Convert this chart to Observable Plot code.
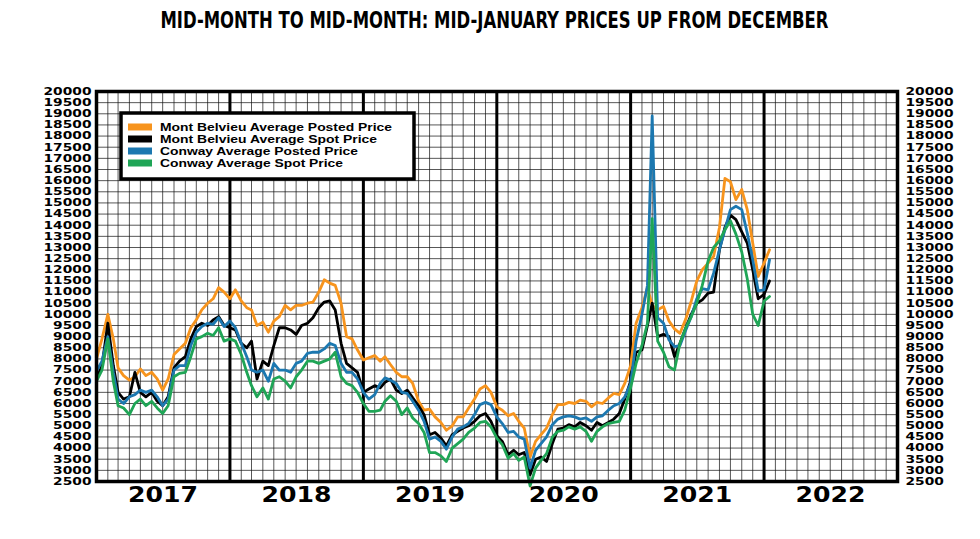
<!DOCTYPE html>
<html><head><meta charset="utf-8">
<script src="https://cdn.jsdelivr.net/npm/d3@7"></script>
<script src="https://cdn.jsdelivr.net/npm/@observablehq/plot@0.6"></script>
<style>
body{margin:0;background:#fff;}
#wrap{position:relative;width:980px;height:539px;overflow:hidden;}
#wrap svg{position:absolute;left:0;top:0;}
#title{position:absolute;top:9px;left:4px;width:980px;text-align:center;z-index:2;white-space:nowrap;}
#title span{display:inline-block;font-family:"DejaVu Sans Condensed","DejaVu Sans",sans-serif;font-weight:bold;font-size:23px;line-height:23px;transform-origin:center center;}
</style></head><body><div id="wrap"><div id="title"><span id="tspan"></span></div></div>
<script>
const titleText = "MID-MONTH TO MID-MONTH: MID-JANUARY PRICES UP FROM DECEMBER";
const seriesNames = ["Mont Belvieu Average Posted Price","Mont Belvieu Average Spot Price","Conway Average Posted Price","Conway Average Spot Price"];
const seriesColors = ["#f7941d","#000000","#1c78b0","#1fa556"];
// semi-monthly readings (1st and 16th of each month), Jan 2017 - mid Jan 2022
const mbPosted = [
 8000,8900,10000,8900,7600,7250,7050,7200,7550,7250,7400,7100,6600,7100,8200,8450,8700,9400,9750,10200,10500,10700,11200,11000,
 10700,11100,10600,10300,10200,9500,9650,9200,9700,9900,10400,10200,10400,10400,10500,10550,11000,11550,11400,11300,10500,9000,8900,8400,
 7950,8050,8150,7900,8100,7750,7400,7200,7200,6900,6100,5700,5750,5400,5150,4800,5000,5400,5400,5800,6200,6650,6800,6500,
 5850,5700,5450,5550,5200,4900,3600,4300,4600,4900,5500,5950,5950,6050,6000,6150,6100,5850,6050,6000,6250,6450,6400,6900,
 7700,9600,10300,11200,10400,10200,10350,9700,9350,9150,9800,10600,11500,12000,12300,12600,13900,16100,15950,15150,15600,14700,13200,11700,12300,12900
];
const mbSpot = [
 7100,7700,9600,7700,6500,6200,6300,7400,6500,6300,6500,6100,5900,6300,7600,7900,8100,8900,9450,9600,9500,9750,9900,9500,
 9400,9300,8700,8500,8800,7100,7900,7700,8600,9400,9400,9300,9100,9500,9600,9850,10300,10550,10600,10200,8700,7800,7600,7400,
 6500,6650,6800,6700,6950,7100,6600,6450,6600,6250,5900,5500,4600,4700,4450,4100,4600,4750,4900,5000,5200,5450,5550,5200,
 4550,4300,3700,3900,3700,3800,2800,3500,3600,3400,4200,4850,4900,5050,4950,5150,5000,4800,5150,5000,5150,5300,5550,6200,
 7000,8300,8400,9500,10500,9000,9100,9000,8100,8700,9400,10000,10500,10650,10950,11000,12900,13900,14450,14250,13700,13200,12000,10700,10900,11500
];
const cwPosted = [
 7450,7900,9000,7400,6200,6000,6300,6400,6600,6500,6600,6300,5900,6200,7500,7700,7700,8600,9200,9450,9600,9550,9850,9450,
 9700,9400,8700,8100,7500,7400,7500,7000,7800,7500,7500,7400,7800,7900,8250,8300,8300,8450,8700,8600,7800,7400,7400,7100,
 6500,6200,6400,6900,7150,7050,6900,6500,6450,6100,5700,5200,4400,4500,4300,3950,4500,4850,4950,5100,5500,5950,6050,5950,
 5400,5100,4700,4750,4500,4400,3100,3900,4200,4500,5050,5300,5400,5450,5400,5300,5350,5200,5400,5450,5700,5900,6000,6300,
 6900,8800,10000,11300,18900,9850,9600,8850,8550,8600,9300,9900,10700,11150,11100,11850,12900,13800,14700,14850,14700,13650,12450,11050,11100,12450
];
const cwSpot = [
 7000,7500,8900,7000,5900,5800,5500,6000,6200,5900,6100,5800,5550,5900,7200,7350,7400,8100,8900,9000,9150,9050,9400,8800,
 8900,8800,8200,7400,6800,6300,6700,6200,7100,7200,7000,6700,7200,7500,7900,7900,7800,7900,8000,8300,7200,6900,6800,6500,
 6000,5650,5650,5700,6100,6350,6100,5500,5800,5350,5100,4700,3800,3800,3650,3400,4000,4200,4400,4700,4900,5150,5200,4950,
 4450,4150,3550,3750,3450,3600,2300,3100,3450,3750,4500,4750,4800,4950,4850,4950,4750,4300,4750,4950,5100,5150,5200,5700,
 6700,7800,8600,9600,14300,8800,8300,7650,7500,8700,9400,9900,10500,11300,12400,13000,13300,13800,14200,13600,12800,11600,10000,9500,10600,10800
];
const yTicks = d3.range(2500, 20001, 500);
const yearLabels = [2017, 2018, 2019, 2020, 2021, 2022];

function dateAt(i){ return new Date(Date.UTC(2017, Math.floor(i/2), i % 2 ? 16 : 1)); }
const rows = [];
[mbPosted, mbSpot, cwPosted, cwSpot].forEach((arr, k) =>
  arr.forEach((v, i) => rows.push({series: seriesNames[k], date: dateAt(i), value: v})));
const months = d3.utcMonth.range(new Date(Date.UTC(2017,0,1)), new Date(Date.UTC(2023,0,1)));
const yearBounds = yearLabels.slice(1).map(y => new Date(Date.UTC(y,0,1)));

const chart = Plot.plot({
  width: 980, height: 539,
  marginTop: 91, marginBottom: 58, marginLeft: 96, marginRight: 83,
  style: {fontFamily: "DejaVu Sans, sans-serif", background: "#fff"},
  x: {type: "utc", domain: [new Date(Date.UTC(2017,0,1)), new Date(Date.UTC(2023,0,1))], axis: null},
  y: {domain: [2500, 20000], axis: null},
  color: {domain: seriesNames, range: seriesColors},
  marks: [
    Plot.ruleX(months, {stroke: "#111", strokeWidth: 1, strokeOpacity: 0.7}),
    Plot.ruleY(yTicks, {stroke: "#111", strokeWidth: 1, strokeOpacity: 0.7}),
    Plot.ruleX(yearBounds, {stroke: "#000", strokeWidth: 3}),
    Plot.line(rows, {x: "date", y: "value", z: "series", stroke: "series", strokeWidth: 2.8, strokeLinejoin: "round"}),
    Plot.frame({stroke: "#000", strokeWidth: 3.5}),
    Plot.text(yTicks, {y: d => d, frameAnchor: "left", dx: -5, textAnchor: "end", text: d => String(d), fontSize: 10.5, fontWeight: "bold", fill: "#000"}),
    Plot.text(yTicks, {y: d => d, frameAnchor: "right", dx: 8, textAnchor: "start", text: d => String(d), fontSize: 10.5, fontWeight: "bold", fill: "#000"}),
    Plot.text(yearLabels, {x: d => new Date(Date.UTC(d,6,2)), frameAnchor: "bottom", dy: 20, text: d => String(d), fontSize: 21, fontWeight: "bold", fill: "#000"})
  ]
});
const wrap = document.getElementById("wrap");
wrap.insertBefore(chart, wrap.firstChild);

// stretch tick labels to the wide face of the original
const groups = chart.querySelectorAll('g[aria-label="text"]');
[0,1].forEach(g => groups[g] && groups[g].querySelectorAll("text").forEach(t => {
  t.setAttribute("textLength", t.textContent.length * 9.6);
  t.setAttribute("lengthAdjust", "spacingAndGlyphs");
}));
if (groups[2]) groups[2].querySelectorAll("text").forEach(t => {
  t.setAttribute("textLength", 70);
  t.setAttribute("lengthAdjust", "spacingAndGlyphs");
});

// title (HTML, fitted to the original width)
const tspan = document.getElementById("tspan");
tspan.textContent = titleText;
const tw = tspan.getBoundingClientRect().width;
tspan.style.transform = `scaleX(${668 / tw})`;

// legend overlay
const ov = d3.select(wrap).append("svg").attr("width", 980).attr("height", 539).style("pointer-events", "none");
const lg = ov.append("g");
lg.append("rect").attr("x", 121).attr("y", 113).attr("width", 293).attr("height", 66)
  .attr("fill", "#fff").attr("stroke", "#000").attr("stroke-width", 3.5);
const legendWidths = [232, 217, 198, 183];
seriesNames.forEach((s, k) => {
  const cy = 127 + k * 12;
  lg.append("rect").attr("x", 128).attr("y", cy - 3.5).attr("width", 24).attr("height", 7).attr("fill", seriesColors[k]);
  lg.append("text").attr("x", 160).attr("y", cy + 4).attr("font-family", "Liberation Sans, Arial, sans-serif")
    .attr("font-weight", "bold").attr("font-size", 11).attr("textLength", legendWidths[k])
    .attr("lengthAdjust", "spacingAndGlyphs").text(s);
});
</script></body></html>
